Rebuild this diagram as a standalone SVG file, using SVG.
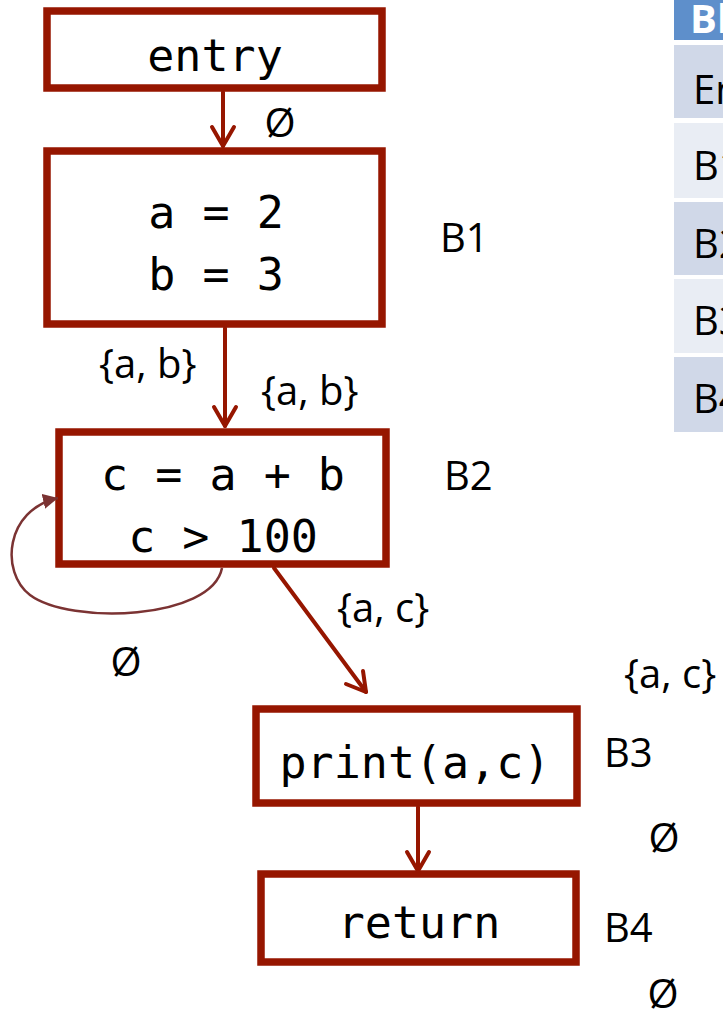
<svg xmlns="http://www.w3.org/2000/svg" width="723" height="1018" viewBox="0 0 723 1018">
<defs>
<style>
.box{fill:#ffffff;stroke:#961600;stroke-width:7.5}
.code{font-family:"DejaVu Sans Mono","Liberation Mono",monospace;font-size:45px;fill:#000;text-anchor:middle}
.lbl{font-family:"Open Sans","Liberation Sans",sans-serif;font-size:40px;fill:#000}
.mid{text-anchor:middle}
.edge{fill:none;stroke:#961600;stroke-width:4;stroke-linecap:round;stroke-linejoin:round}
.loop{fill:none;stroke:#7b3333;stroke-width:2.5}
.hdr{fill:#5e8fcb}
.rd{fill:#d0d8e8}
.rl{fill:#e9edf4}
</style>
<marker id="tri" viewBox="0 0 10 10" refX="10" refY="5" markerWidth="15" markerHeight="15" markerUnits="userSpaceOnUse" orient="auto">
<path d="M0,0 L10,5 L0,10 z" fill="#7b3333"/>
</marker>
</defs>
<rect x="0" y="0" width="723" height="1018" fill="#ffffff"/>

<g id="table">
<rect class="hdr" x="674" y="0" width="60" height="40"/>
<text x="690" y="33" font-family="Open Sans, Liberation Sans, sans-serif" font-size="40" font-weight="bold" fill="#ffffff">Block</text>
<rect class="rd" x="674" y="45" width="60" height="73"/>
<text class="lbl" x="693" y="104">Entry</text>
<rect class="rl" x="674" y="123" width="60" height="75"/>
<text class="lbl" x="693" y="180">B1</text>
<rect class="rd" x="674" y="202" width="60" height="73"/>
<text class="lbl" x="693" y="258">B2</text>
<rect class="rl" x="674" y="279" width="60" height="74"/>
<text class="lbl" x="693" y="335">B3</text>
<rect class="rd" x="674" y="357" width="60" height="75"/>
<text class="lbl" x="693" y="413">B4</text>
</g>

<g id="entry">
<rect class="box" x="47" y="11" width="335" height="77"/>
<text class="code" x="215" y="71">entry</text>
</g>

<g id="B1">
<rect class="box" x="47" y="151" width="335" height="173"/>
<text class="code" x="216" y="228">a = 2</text>
<text class="code" x="216" y="290">b = 3</text>
<text class="lbl" x="440" y="252">B1</text>
</g>

<g id="B2">
<rect class="box" x="59" y="432" width="327" height="132"/>
<text class="code" x="223" y="490">c = a + b</text>
<text class="code" x="223" y="552">c &gt; 100</text>
<text class="lbl" x="444" y="490">B2</text>
</g>

<g id="B3">
<rect class="box" x="256" y="709" width="321" height="94"/>
<text class="code" x="415" y="778">print(a,c)</text>
<text class="lbl" x="604" y="767">B3</text>
</g>

<g id="B4">
<rect class="box" x="261" y="874" width="315" height="88"/>
<text class="code" x="419" y="938">return</text>
<text class="lbl" x="604" y="942">B4</text>
</g>

<g id="connectors">
<line class="edge" x1="223" y1="92" x2="223" y2="146"/>
<polyline class="edge" points="212,127 223,146 234,127"/>
<line class="edge" x1="225" y1="328" x2="225" y2="426"/>
<polyline class="edge" points="214,407 225,426 236,407"/>
<line class="edge" x1="274" y1="568" x2="366" y2="692"/>
<polyline class="edge" points="346,684 366,692 363,671"/>
<line class="edge" x1="418" y1="807" x2="418" y2="871"/>
<polyline class="edge" points="407,852 418,871 429,852"/>
<path class="loop" d="M222,568 C212,620 70,625 30,595 C0,572 5,510 58,498" marker-end="url(#tri)"/>
</g>

<g id="labels">
<text class="lbl mid" x="280" y="137">Ø</text>
<text class="lbl" x="99" y="378">{a, b}</text>
<text class="lbl" x="261" y="405">{a, b}</text>
<text class="lbl" x="337" y="622">{a, c}</text>
<text class="lbl mid" x="126" y="676">Ø</text>
<text class="lbl" x="624" y="688">{a, c}</text>
<text class="lbl mid" x="664" y="852">Ø</text>
<text class="lbl mid" x="663" y="1008">Ø</text>
</g>
</svg>
